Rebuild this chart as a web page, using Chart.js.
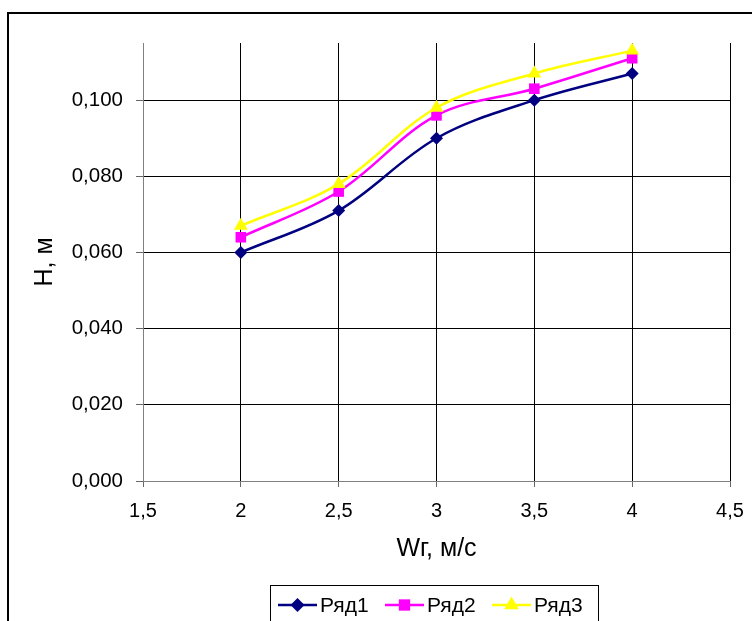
<!DOCTYPE html>
<html>
<head>
<meta charset="utf-8">
<script src="https://cdn.jsdelivr.net/npm/chart.js@4/dist/chart.umd.min.js"></script>
<style>
  html, body { margin: 0; padding: 0; background: #fff; }
  #wrap { width: 752px; height: 621px; }
</style>
</head>
<body>
<div id="wrap"><canvas id="chart" width="752" height="621"></canvas></div>
<script>
const speeds = [2, 2.5, 3, 3.5, 4];
const row1 = [0.060, 0.071, 0.090, 0.100, 0.107];
const row2 = [0.064, 0.076, 0.096, 0.103, 0.111];
const row3 = [0.067, 0.078, 0.098, 0.107, 0.113];
const seriesNames = ["Ряд1", "Ряд2", "Ряд3"];
const seriesColors = ["#000080", "#ff00ff", "#ffff00"];
const seriesMarkers = ["rectRot", "rect", "triangle"];
const markerSizes = [6.5, 7.5, 8];

const FONT = "'Liberation Sans', Arial, sans-serif";

function points(values) {
  return speeds.map((x, i) => ({ x: x, y: values[i] }));
}

function comma(v, digits) {
  return v.toFixed(digits).replace(".", ",");
}

function drawMarker(ctx, style, color, x, y, r) {
  ctx.save();
  ctx.fillStyle = color;
  ctx.beginPath();
  if (style === "rectRot") {
    ctx.moveTo(x, y - r);
    ctx.lineTo(x + r, y);
    ctx.lineTo(x, y + r);
    ctx.lineTo(x - r, y);
  } else if (style === "rect") {
    const s = r * Math.SQRT1_2;
    ctx.rect(x - s, y - s, 2 * s, 2 * s);
  } else {
    ctx.moveTo(x, y - r);
    ctx.lineTo(x + r * 0.866, y + r * 0.5);
    ctx.lineTo(x - r * 0.866, y + r * 0.5);
  }
  ctx.closePath();
  ctx.fill();
  ctx.restore();
}

// outer frame + boxed legend, Excel style
const framePlugin = {
  id: "frame",
  afterDraw(chart) {
    const ctx = chart.ctx;
    ctx.save();
    ctx.strokeStyle = "#000";
    ctx.lineWidth = 2;
    ctx.strokeRect(8, 13, 800, 700);

    ctx.lineWidth = 1;
    ctx.strokeRect(270.5, 585.5, 328, 36);

    ctx.font = "21px " + FONT;
    ctx.textBaseline = "middle";
    let x = 278;
    const y = 605;
    seriesNames.forEach((name, i) => {
      ctx.strokeStyle = seriesColors[i];
      ctx.lineWidth = 2.5;
      ctx.beginPath();
      ctx.moveTo(x, y);
      ctx.lineTo(x + 39, y);
      ctx.stroke();
      drawMarker(ctx, seriesMarkers[i], seriesColors[i], x + 19.5, y, markerSizes[i] + 0.5);
      ctx.fillStyle = "#000";
      ctx.fillText(name, x + 42, y + 1);
      x += 107;
    });
    ctx.restore();
  }
};

new Chart(document.getElementById("chart"), {
  type: "line",
  data: {
    datasets: [row1, row2, row3].map((vals, i) => ({
      label: seriesNames[i],
      data: points(vals),
      borderColor: seriesColors[i],
      backgroundColor: seriesColors[i],
      borderWidth: 2.5,
      pointStyle: seriesMarkers[i],
      pointRadius: markerSizes[i],
      pointBorderWidth: 0,
      pointHoverRadius: markerSizes[i],
      tension: 0.35,
      fill: false,
      order: 2 - i,
    })),
  },
  options: {
    responsive: false,
    animation: false,
    layout: { padding: { left: 0, top: 43, right: 22, bottom: 0 } },
    plugins: {
      legend: { display: false },
      tooltip: { enabled: false },
    },
    scales: {
      x: {
        type: "linear",
        min: 1.5,
        max: 4.5,
        ticks: {
          stepSize: 0.5,
          padding: 12,
          color: "#000",
          font: { family: FONT, size: 20 },
          maxRotation: 0,
          callback: (v) => comma(v, Number.isInteger(v) ? 0 : 1),
        },
        grid: { color: "#000", lineWidth: 1, tickLength: 6, tickColor: "#666" },
        border: { color: "#808080", width: 1 },
        title: {
          display: true,
          text: "Wг, м/с",
          color: "#000",
          font: { family: FONT, size: 25 },
          padding: { bottom: 57 },
        },
        afterFit(scale) {
          scale.height = 140;
          scale.paddingLeft = 0;
          scale.paddingRight = 0;
        },
      },
      y: {
        min: 0,
        max: 0.115,
        ticks: {
          stepSize: 0.02,
          padding: 13,
          color: "#000",
          font: { family: FONT, size: 20.5 },
          callback: (v) => comma(v, 3),
        },
        afterBuildTicks(scale) {
          scale.ticks = scale.ticks.filter((t) => Math.abs(t.value / 0.02 - Math.round(t.value / 0.02)) < 1e-6);
        },
        grid: { color: "#000", lineWidth: 1, tickLength: 7, tickColor: "#666" },
        border: { color: "#808080", width: 1 },
        title: {
          display: true,
          text: "Н, м",
          color: "#000",
          font: { family: FONT, size: 25 },
          padding: { top: 30 },
        },
        afterFit(scale) {
          scale.width = 143;
          scale.paddingTop = 0;
          scale.paddingBottom = 0;
        },
      },
    },
  },
  plugins: [framePlugin],
});
</script>
</body>
</html>
